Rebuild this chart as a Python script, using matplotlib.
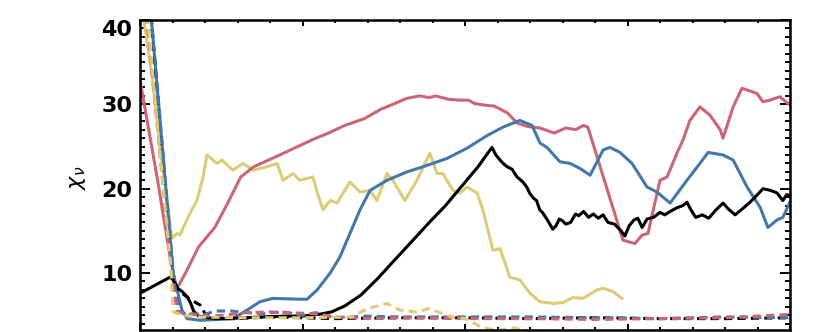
import numpy as np
import matplotlib
matplotlib.use("Agg")
import matplotlib.pyplot as plt
from matplotlib.ticker import MultipleLocator

# solid curves
black_x = [0, 0.92, 1.0, 1.15, 1.3, 1.45, 1.55, 1.65, 1.8, 2.1, 2.6, 3.2, 3.8, 4.5, 5.0, 5.5, 5.9,
           6.3, 6.8, 7.3, 7.8, 8.4, 8.9, 9.4, 9.9, 10.4, 10.83, 10.95, 11.1, 11.2, 11.3, 11.45, 11.6,
           11.78, 11.9, 12.0, 12.1, 12.2, 12.3, 12.4, 12.55, 12.7, 12.8, 12.9, 13.0, 13.1, 13.25,
           13.4, 13.5, 13.65, 13.8, 13.95, 14.1, 14.25, 14.4, 14.6, 14.8, 14.92, 15.05, 15.2, 15.32,
           15.45, 15.6, 15.8, 16.0, 16.15, 16.31, 16.5, 16.7, 16.83, 16.95, 17.1, 17.3, 17.5, 17.7,
           17.94, 18.1, 18.31, 18.5, 18.77, 19.0, 19.17, 19.4, 19.6, 19.78, 19.9, 20.0]
black_y = [7.6, 9.5, 9.3, 8.2, 7.8, 7.2, 6.5, 5.5, 4.9, 4.7, 4.6, 4.7, 4.8, 4.9, 4.9, 5.1, 5.4,
           6.1, 7.4, 9.3, 11.4, 13.9, 16.0, 18.0, 20.3, 22.6, 24.9, 24.0, 23.3, 22.9, 22.6, 22.3, 21.4,
           20.8, 20.2, 19.4, 18.9, 18.6, 17.5, 17.1, 16.2, 15.2, 15.6, 16.4, 16.2, 15.8, 16.0,
           17.0, 16.8, 17.3, 16.6, 17.0, 16.5, 16.9, 16.0, 15.8, 15.0, 14.4, 15.6, 16.3, 16.5,
           15.4, 16.4, 16.6, 17.2, 16.9, 17.3, 17.7, 18.0, 18.4, 17.5, 16.6, 16.9, 16.5, 17.4,
           18.3, 17.6, 16.9, 17.5, 18.4, 19.3, 20.0, 19.8, 19.5, 18.6, 19.3, 19.2]

red_x = [0, 0.55, 0.9, 1.1, 1.2, 1.4, 1.8, 2.3, 2.7, 3.1, 3.3, 3.5, 3.9, 4.3, 4.8, 5.3, 5.8, 6.3,
         6.9, 7.4, 7.9, 8.2, 8.6, 8.9, 9.1, 9.5, 9.8, 10.1, 10.3, 10.6, 10.9, 11.0, 11.3, 11.6, 11.9,
         12.3, 12.75, 13.1, 13.4, 13.65, 13.78, 14.86, 15.23, 15.45, 15.63, 16.0, 16.22, 16.52,
         16.71, 16.92, 17.23, 17.54, 17.85, 17.94, 18.25, 18.52, 18.68, 18.98, 19.17, 19.38,
         19.69, 20.0]
red_y = [32.9, 20.8, 12.5, 8.4, 8.6, 10.0, 13.1, 15.4, 18.3, 21.4, 22.0, 22.6, 23.3, 24.0, 24.9,
         25.8, 26.6, 27.5, 28.3, 29.4, 30.2, 30.7, 31.0, 30.8, 31.0, 30.6, 30.5, 30.5, 30.1, 29.9,
         29.8, 29.6, 29.0, 27.8, 27.4, 27.2, 26.6, 27.2, 27.0, 27.5, 27.3, 13.9, 13.5, 14.5, 14.7,
         21.0, 21.4, 24.2, 25.8, 28.1, 29.7, 28.7, 27.0, 26.0, 29.7, 31.9, 31.7, 31.3, 30.3, 30.5,
         30.9, 29.9]

blue_x = [0.34, 1.02, 1.29, 1.45, 1.85, 2.37, 2.86, 3.29, 3.69, 4.09, 4.92, 5.14, 5.45, 5.85,
          6.15, 6.46, 6.77, 7.08, 7.6, 8.22, 8.71, 9.45, 10.06, 10.68, 11.17, 11.69, 12.06, 12.31,
          12.52, 12.92, 13.23, 13.54, 13.85, 14.25, 14.46, 14.77, 15.14, 15.6, 15.91, 16.31,
          16.83, 17.23, 17.48, 17.94, 18.25, 18.68, 19.08, 19.32, 19.6, 19.78, 20.0]
blue_y = [40.5, 10.0, 5.6, 4.6, 4.4, 4.5, 4.6, 5.6, 6.6, 7.0, 6.9, 6.9, 8.0, 10.0,
          11.9, 14.7, 17.5, 19.8, 21.0, 22.0, 22.6, 23.6, 24.8, 26.3, 27.3, 28.1, 27.5, 25.4,
          24.9, 23.2, 23.0, 22.4, 21.6, 24.6, 24.9, 24.3, 23.0, 20.2, 19.6, 18.3,
          21.0, 23.0, 24.3, 24.0, 23.4, 20.2, 17.8, 15.4, 16.3, 16.6, 18.4]

yellow_x = [0.1, 0.4, 0.62, 0.86, 0.98, 1.14, 1.23, 1.32, 1.54, 1.75, 1.94, 2.06, 2.37, 2.52,
            2.86, 3.17, 3.48, 3.91, 4.22, 4.4, 4.71, 4.92, 5.32, 5.45, 5.63, 5.85, 6.06, 6.46,
            6.77, 7.08, 7.29, 7.6, 7.78, 8.15, 8.52, 8.92, 9.14, 9.32, 9.63, 9.85, 10.06, 10.37,
            10.55, 10.86, 11.08, 11.38, 11.69, 12.0, 12.31, 12.71, 13.02, 13.32, 13.63, 14.06,
            14.25, 14.55, 14.83]
yellow_y = [40.5, 32.5, 24.6, 17.8, 14.1, 14.7, 14.5, 15.3, 17.1, 18.6, 21.4, 24.0, 23.0, 23.4,
            22.2, 23.0, 22.2, 22.6, 23.0, 21.0, 21.8, 21.0, 21.4, 19.6, 17.5, 18.6, 18.3, 20.8,
            19.6, 19.8, 18.6, 21.8, 21.0, 18.6, 21.0, 24.2, 21.8, 21.8, 19.8, 19.5, 20.2, 19.5,
            17.5, 12.7, 12.9, 9.5, 9.2, 7.6, 6.6, 6.4, 6.5, 7.1, 7.0, 8.0,
            8.2, 7.8, 7.0]

# dashed curves
black_d_x = [0.34, 1.0, 1.2, 1.5, 1.85, 2.0, 2.2, 3.0, 4.0, 5.0, 6.0, 8.0, 10.0, 12.0, 14.0, 16.0, 18.0, 20.0]
black_d_y = [40.5, 9.4, 7.9, 7.0, 6.2, 5.2, 4.6, 4.6, 4.8, 4.7, 4.6, 4.7, 4.7, 4.6, 4.7, 4.6, 4.6, 4.7]

blue_d_x = [0.34, 1.05, 1.2, 1.4, 2.0, 2.3, 2.8, 3.3, 3.8, 4.4, 5.0, 5.4, 6.0, 7.0, 8.0, 10.0, 12.0, 14.0, 16.0, 18.0, 20.0]
blue_d_y = [40.5, 9.0, 5.4, 5.2, 5.1, 5.5, 5.5, 5.3, 5.2, 5.4, 5.0, 5.3, 4.7, 4.9, 4.8, 4.8, 4.8, 4.7, 4.6, 4.8, 4.7]

red_d_x = [0.2, 1.0, 1.15, 1.4, 2.0, 2.6, 3.2, 4.0, 4.6, 5.3, 6.0, 7.0, 8.0, 10.0, 12.0, 14.0, 16.0, 18.0, 19.0, 20.0]
red_d_y = [40.5, 8.8, 5.4, 5.2, 4.9, 5.0, 5.3, 5.4, 5.3, 5.2, 4.8, 4.6, 4.7, 4.6, 4.6, 4.5, 4.6, 4.7, 4.9, 5.1]

yellow_d_x = [0.22, 0.95, 1.02, 1.3, 1.8, 3.0, 5.0, 6.5, 7.0, 7.6, 8.0, 8.5, 8.9, 9.3, 9.6, 10.0,
              10.5, 11.0, 11.5, 12.0, 12.3]
yellow_d_y = [40.5, 10.5, 5.4, 5.0, 4.8, 4.7, 4.7, 4.8, 5.8, 6.4, 5.6, 5.4, 5.8, 5.2, 4.8, 4.6,
              3.6, 3.2, 3.5, 3.1, 2.8]

RED = "#CC6677"
BLUE = "#4477AA"
YELLOW = "#DDCC77"

fig = plt.figure(figsize=(8.3, 3.32), dpi=100)
ax = fig.add_axes([140 / 830, 2 / 332, 650 / 830, 310 / 332])

lw = 2.2
dash = (0, (2.7, 1.7))
ax.plot(yellow_x, yellow_y, color=YELLOW, lw=lw)
ax.plot(red_x, red_y, color=RED, lw=lw)
ax.plot(blue_x, blue_y, color=BLUE, lw=lw)
ax.plot(black_x, black_y, color="black", lw=lw)
ax.plot(black_d_x, black_d_y, color="black", lw=lw, ls=dash)
ax.plot(blue_d_x, blue_d_y, color=BLUE, lw=lw, ls=dash)
ax.plot(red_d_x, red_d_y, color=RED, lw=lw, ls=dash)
ax.plot(yellow_d_x, yellow_d_y, color=YELLOW, lw=lw, ls=dash)

ax.set_xlim(0, 20)
ax.set_ylim(3.25, 40)

ax.xaxis.set_major_locator(MultipleLocator(5))
ax.xaxis.set_minor_locator(MultipleLocator(1))
ax.yaxis.set_major_locator(MultipleLocator(10))
ax.yaxis.set_minor_locator(MultipleLocator(1))

ax.tick_params(axis="x", which="major", direction="in", length=4.5, width=1.4,
               top=True, bottom=True, labelbottom=False)
ax.tick_params(axis="x", which="minor", direction="in", length=2.5, width=1.4,
               top=True, bottom=True)
ax.tick_params(axis="y", which="major", direction="in", length=7, width=1.4,
               left=True, right=True, pad=5.5, labelsize=16)
ax.tick_params(axis="y", which="minor", direction="in", length=3.6, width=1.4,
               left=True, right=True)

for lab in ax.get_yticklabels():
    lab.set_fontweight("bold")
fig.canvas.draw()
for t in ax.yaxis.get_major_ticks():
    if abs(t.get_loc() - 40) < 1e-6:
        t.label1.set_va("top")

for s in ax.spines.values():
    s.set_linewidth(1.8)

ax.set_ylabel(r"$\chi_\nu$", fontsize=16)
ax.yaxis.set_label_coords(-0.08, 0.49)

fig.savefig("out.png", dpi=100)
